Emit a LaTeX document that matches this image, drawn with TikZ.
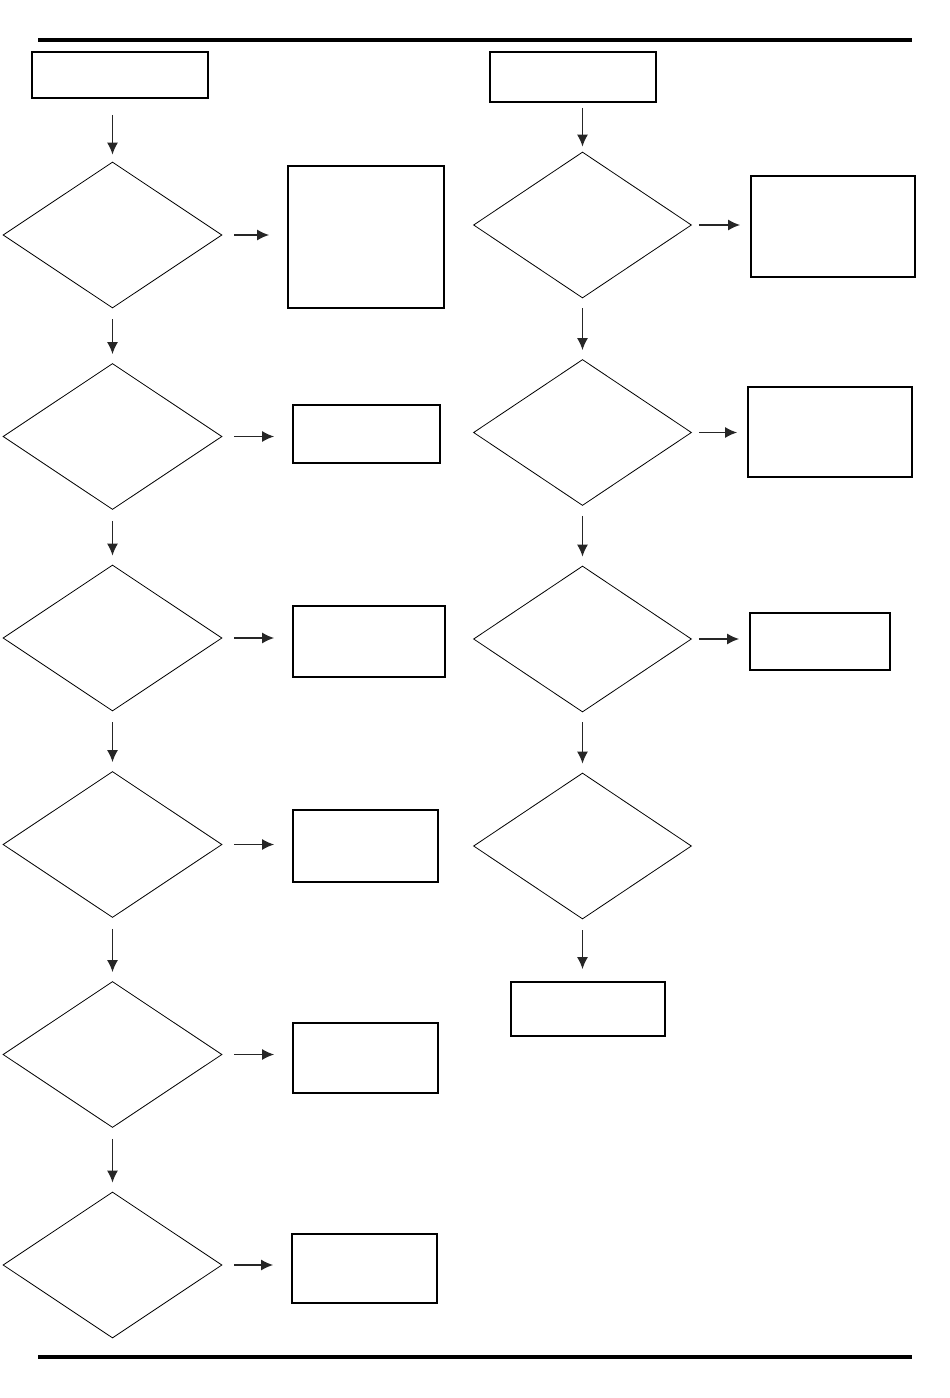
\documentclass[tikz,border=0pt]{standalone}
\usetikzlibrary{shapes.geometric,arrows.meta}

\begin{document}
\begin{tikzpicture}[
    x = 1pt,
    y = -1pt,
    decision/.style = {
        draw,
        diamond,
        minimum width = 219pt,
        minimum height = 146pt,
        inner sep = 0pt,
        line width = 0.8pt
    },
    result/.style = {
        draw,
        rectangle,
        inner sep = 0pt,
        line width = 1.8pt
    },
    flow/.style = {
        -{Latex[length=12pt, width=11pt]},
        line width = 1.4pt,
        black!85
    }
]
\useasboundingbox (0,0) rectangle (950,1398);

% Page rules
\draw[line width = 4pt] (38,40) -- (912,40);
\draw[line width = 4pt] (38,1357) -- (912,1357);

% Left column
\node[result, minimum width = 176pt, minimum height = 46pt] (ls) at (120,75) {};
\foreach \i / \y in {1/235, 2/436.5, 3/638, 4/844.5, 5/1054.5, 6/1265} {
    \node[decision] (ld\i) at (112.5,\y) {};
}
\foreach \i / \x / \y / \w / \h in {1/366/237/156/142, 2/366.5/434/147/58, 3/369/641.5/152/71,
                                   4/365.5/846/145/72, 5/365.5/1058/145/70, 6/364.5/1268.5/145/69} {
    \node[result, minimum width = \w pt, minimum height = \h pt] (lr\i) at (\x,\y) {};
    \draw[flow, shorten <= 12pt, shorten >= 18pt] (ld\i.east) -- (ld\i.east -| lr\i.west);
}
\draw[flow, shorten <= 16pt, shorten >= 7pt] (ld1.north |- ls.south) -- (ld1.north);
\foreach \i / \j in {1/2, 2/3, 3/4, 4/5, 5/6} {
    \draw[flow, shorten <= 11pt, shorten >= 9pt] (ld\i.south) -- (ld\j.north);
}

% Right column
\node[result, minimum width = 166pt, minimum height = 50pt] (rs) at (573,77) {};
\foreach \i / \y in {1/225, 2/432.5, 3/639, 4/846} {
    \node[decision, minimum width = 218pt] (rd\i) at (582.5,\y) {};
}
\foreach \i / \x / \y / \w / \h in {1/833/226.5/164/101, 2/830/432/164/90, 3/820/641.5/140/57} {
    \node[result, minimum width = \w pt, minimum height = \h pt] (rr\i) at (\x,\y) {};
    \draw[flow, shorten <= 7pt, shorten >= 10pt] (rd\i.east) -- (rd\i.east -| rr\i.west);
}
\node[result, minimum width = 154pt, minimum height = 54pt] (re) at (588,1009) {};
\draw[flow, shorten <= 5pt, shorten >= 5pt] (rd1.north |- rs.south) -- (rd1.north);
\foreach \i / \j in {1/2, 2/3, 3/4} {
    \draw[flow, shorten <= 10pt, shorten >= 9pt] (rd\i.south) -- (rd\j.north);
}
\draw[flow, shorten <= 11pt, shorten >= 12pt] (rd4.south) -- (rd4.south |- re.north);

\end{tikzpicture}
\end{document}
